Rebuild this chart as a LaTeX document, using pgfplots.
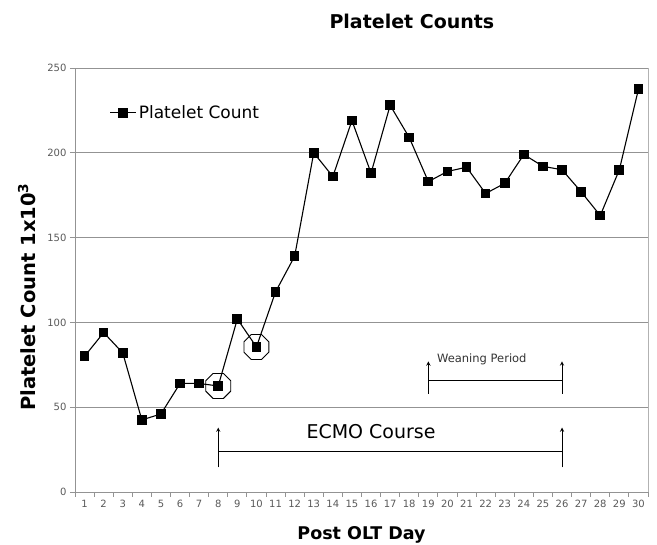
\documentclass[border=0pt]{standalone}
\usepackage{fontspec}
\setmainfont{DejaVu Sans}
\usepackage{pgfplots}
\pgfplotsset{compat=1.18}
\pgfdeclareplotmark{oct}{%
  \pgfpathmoveto{\pgfpointpolar{22.5}{\pgfplotmarksize}}%
  \pgfpathlineto{\pgfpointpolar{67.5}{\pgfplotmarksize}}%
  \pgfpathlineto{\pgfpointpolar{112.5}{\pgfplotmarksize}}%
  \pgfpathlineto{\pgfpointpolar{157.5}{\pgfplotmarksize}}%
  \pgfpathlineto{\pgfpointpolar{202.5}{\pgfplotmarksize}}%
  \pgfpathlineto{\pgfpointpolar{247.5}{\pgfplotmarksize}}%
  \pgfpathlineto{\pgfpointpolar{292.5}{\pgfplotmarksize}}%
  \pgfpathlineto{\pgfpointpolar{337.5}{\pgfplotmarksize}}%
  \pgfpathclose\pgfusepathqstroke}
\begin{document}
\begin{tikzpicture}
\path[use as bounding box] (-75pt,-53pt) rectangle (582pt,492pt);
\begin{axis}[
  scale only axis, width=573pt, height=424pt,
  at={(0,0)}, anchor=south west,
  xmin=0.5, xmax=30.5, ymin=0, ymax=250,
  xtick={1,...,30}, major x tick style={draw=none},
  minor xtick={0.5,1.5,...,30.5},
  ytick={0,50,...,250},
  tick align=outside, tick pos=left,
  minor tick length=5pt, major tick length=5pt,
  ymajorgrids, grid style={gray!85, line width=0.8pt},
  axis line style={gray!85, line width=0.8pt},
  tick style={gray!85, line width=0.8pt},
  ticklabel style={font=\fontsize{10}{12}\selectfont, text=black!65},
  /pgf/number format/assume math mode=true,
  xlabel={\bfseries Post OLT Day},
  ylabel={\bfseries Platelet Count 1x10\textsuperscript{3}},
  xlabel style={font=\fontsize{17.5}{20}\selectfont, at={(0.5,0)}, anchor=center, yshift=-43pt},
  ylabel style={font=\fontsize{19.5}{22}\selectfont, at={(0,0.46)}, anchor=center, yshift=48pt},
  title={\bfseries Platelet Counts},
  title style={font=\fontsize{19}{21}\selectfont, at={(0.588,1)}, anchor=center, yshift=41pt},
  legend style={draw=none, fill=none, at={(0.055,0.894)}, anchor=west, font=\fontsize{17}{19}\selectfont},
  legend image code/.code={\draw[#1] (0pt,0pt) -- (26pt,0pt); \draw[#1, mark repeat=2, mark phase=2] plot coordinates {(0pt,0pt) (13pt,0pt) (26pt,0pt)};},
  legend cell align=left,
  clip=false,
]
\addplot[black, line width=1.1pt, mark=square*, mark size=4.3pt] coordinates {
(1,80) (2,94) (3,82) (4,42.5) (5,46) (6,64) (7,64) (8,62.5) (9,102) (10,85.5)
(11,118) (12,139) (13,200) (14,186) (15,219) (16,188) (17,228) (18,209) (19,183) (20,189)
(21,191.5) (22,176) (23,182) (24,199) (25,192) (26,190) (27,177) (28,163) (29,190) (30,237.5)
};
\addlegendentry{Platelet Count}
\addplot[only marks, black, line width=0.9pt, mark=oct, mark size=13.5pt, forget plot] coordinates {(8,62.5) (10,85.5)};
\draw[black, line width=0.9pt, -stealth] (axis cs:8,14.5) -- (axis cs:8,38);
\draw[black, line width=0.9pt, -stealth] (axis cs:26,14.5) -- (axis cs:26,38);
\draw[black, line width=0.9pt] (axis cs:8,24) -- (axis cs:26,24);
\node[font=\fontsize{19}{21}\selectfont] at (axis cs:16,35.5) {ECMO Course};
\draw[black, line width=0.9pt, -stealth] (axis cs:19,58) -- (axis cs:19,77);
\draw[black, line width=0.9pt, -stealth] (axis cs:26,58) -- (axis cs:26,77);
\draw[black, line width=0.9pt] (axis cs:19,66) -- (axis cs:26,66);
\node[font=\fontsize{11.5}{13}\selectfont, text=black!80] at (axis cs:21.8,78.5) {Weaning Period};
\draw[gray!60, line width=0.6pt] (rel axis cs:1,0) -- (rel axis cs:1,1);
\end{axis}
\end{tikzpicture}
\end{document}
